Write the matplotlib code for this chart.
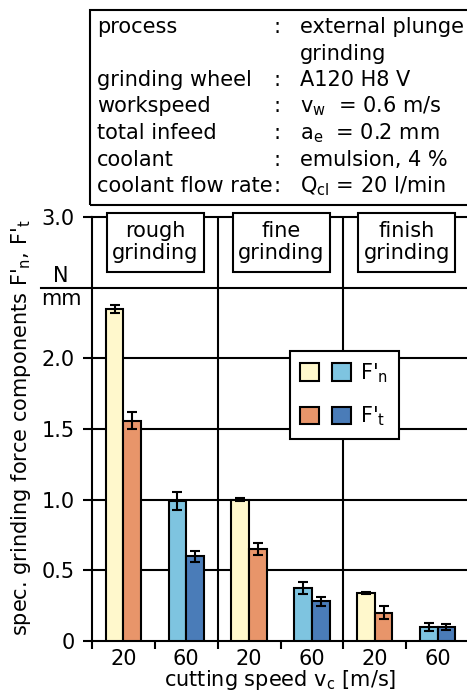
import matplotlib
matplotlib.use('Agg')
import matplotlib.pyplot as plt
import matplotlib.transforms as mtransforms
from matplotlib.patches import Patch, Rectangle
from matplotlib.legend_handler import HandlerTuple

plt.rcParams['font.family'] = ['DejaVu Sans']
plt.rcParams['mathtext.default'] = 'regular'

## Data
groups = ['rough\ngrinding', 'fine\ngrinding', 'finish\ngrinding']
speeds = ['20', '60', '20', '60', '20', '60']
fn = [2.35, 0.99, 1.00, 0.375, 0.34, 0.10]       # F'n [N/mm]
fn_err = [0.03, 0.065, 0.01, 0.045, 0.01, 0.03]
ft = [1.56, 0.60, 0.65, 0.28, 0.20, 0.10]        # F't [N/mm]
ft_err = [0.06, 0.04, 0.045, 0.03, 0.047, 0.02]

info_keys = ['process', '', 'grinding wheel', 'workspeed', 'total infeed',
             'coolant', 'coolant flow rate']
info_vals = ['external plunge', 'grinding', 'A120 H8 V',
             '$v_w$  = 0.6 m/s', '$a_e$  = 0.2 mm', 'emulsion, 4 %',
             '$Q_{cl}$ = 20 l/min']

## Styles
c_fn20 = '#FFF8CC'
c_fn60 = '#7EC4E0'
c_ft20 = '#E8956A'
c_ft60 = '#4A7CB8'
fs = 15
lw = 1.5
W, H = 467, 695

fig = plt.figure(figsize=(W/100, H/100), dpi=100)
ax = fig.add_axes([92/W, (H-641)/H, 377/W, 424/H])

# grid and dividers
for yv in [0.5, 1.0, 1.5, 2.0, 2.5]:
    ax.axhline(yv, color='k', lw=lw, zorder=1)
for xv in [2, 4]:
    ax.axvline(xv, color='k', lw=lw, zorder=1)

# bars
bw = 0.28
off = 0.14
for i in range(6):
    x = i + 0.5
    cn = c_fn20 if speeds[i] == '20' else c_fn60
    ct = c_ft20 if speeds[i] == '20' else c_ft60
    ax.bar(x-off, fn[i], width=bw, color=cn, edgecolor='k', lw=lw, zorder=3)
    ax.bar(x+off, ft[i], width=bw, color=ct, edgecolor='k', lw=lw, zorder=3)
    ax.errorbar(x-off, fn[i], yerr=fn_err[i], fmt='none', ecolor='k',
                elinewidth=1.5, capsize=3.3, capthick=1.5, zorder=4)
    ax.errorbar(x+off, ft[i], yerr=ft_err[i], fmt='none', ecolor='k',
                elinewidth=1.5, capsize=3.3, capthick=1.5, zorder=4)

# section label boxes
for k, g in enumerate(groups):
    ax.add_patch(Rectangle((2*k+0.24, 2.61), 1.54, 0.42, fc='white',
                           ec='k', lw=lw, zorder=5, clip_on=False))
    ax.text(2*k+1.01, 2.82, g, ha='center', va='center', fontsize=fs,
            linespacing=1.12, zorder=6)

ax.set_xlim(0, 6)
ax.set_ylim(0, 3.0)
for s in ax.spines.values():
    s.set_linewidth(lw)
ax.spines['right'].set_visible(False)

ax.set_xticks(range(7))
ax.set_xticklabels([])
ax.set_xticks([i+0.5 for i in range(6)], minor=True)
ax.set_xticklabels(speeds, minor=True, fontsize=fs)
ax.tick_params(axis='x', which='major', length=6, width=lw, direction='out')
ax.tick_params(axis='x', which='minor', length=0, pad=6)
ax.set_yticks([0, 0.5, 1.0, 1.5, 2.0, 3.0])
ax.set_yticklabels(['0', '0.5', '1.0', '1.5', '2.0', '3.0'], fontsize=fs)
ax.tick_params(axis='y', length=6.5, width=lw, direction='out', pad=6)

ax.set_xlabel('cutting speed $v_c$ [m/s]', fontsize=fs, labelpad=-1)
ax.set_ylabel("spec. grinding force components F'$_n$, F'$_t$", fontsize=fs)
ax.yaxis.set_label_coords(-0.157, 0.502)

# unit fraction at 2.5
tr = mtransforms.blended_transform_factory(ax.transAxes, ax.transData)
ax.plot([-0.135, 0], [2.5, 2.5], color='k', lw=lw, transform=tr,
        clip_on=False)
ax.text(-0.082, 2.51, 'N', ha='center', va='bottom', fontsize=fs,
        transform=tr)
ax.text(-0.082, 2.49, 'mm', ha='center', va='top', fontsize=fs,
        transform=tr)

# legend
h1 = (Patch(fc=c_fn20, ec='k', lw=lw), Patch(fc=c_fn60, ec='k', lw=lw))
h2 = (Patch(fc=c_ft20, ec='k', lw=lw), Patch(fc=c_ft60, ec='k', lw=lw))
leg = ax.legend([h1, h2], ["F'$_n$", "F'$_t$"],
                handler_map={tuple: HandlerTuple(ndivide=None, pad=0.6)},
                loc='upper left', bbox_to_anchor=(0.524, 0.684),
                borderaxespad=0, handlelength=2.45, handleheight=0.92,
                handletextpad=0.45, labelspacing=0.95, borderpad=0.5,
                fancybox=False, framealpha=1, edgecolor='k', fontsize=fs)
leg.get_frame().set_linewidth(lw)
leg.set_zorder(7)

# info box at top
fig.patches.append(Rectangle((90/W, 1-205/H), 450/W, 195/H, fill=False,
                             ec='k', lw=lw, transform=fig.transFigure))
for i in range(len(info_keys)):
    yb = 1 - (33 + 26.5*i)/H
    fig.text(97/W, yb, info_keys[i], fontsize=fs, va='baseline')
    if info_keys[i]:
        fig.text(277/W, yb, ':', fontsize=fs, va='baseline', ha='center')
    fig.text(300/W, yb, info_vals[i], fontsize=fs, va='baseline')

fig.savefig('out.png', dpi=100)
